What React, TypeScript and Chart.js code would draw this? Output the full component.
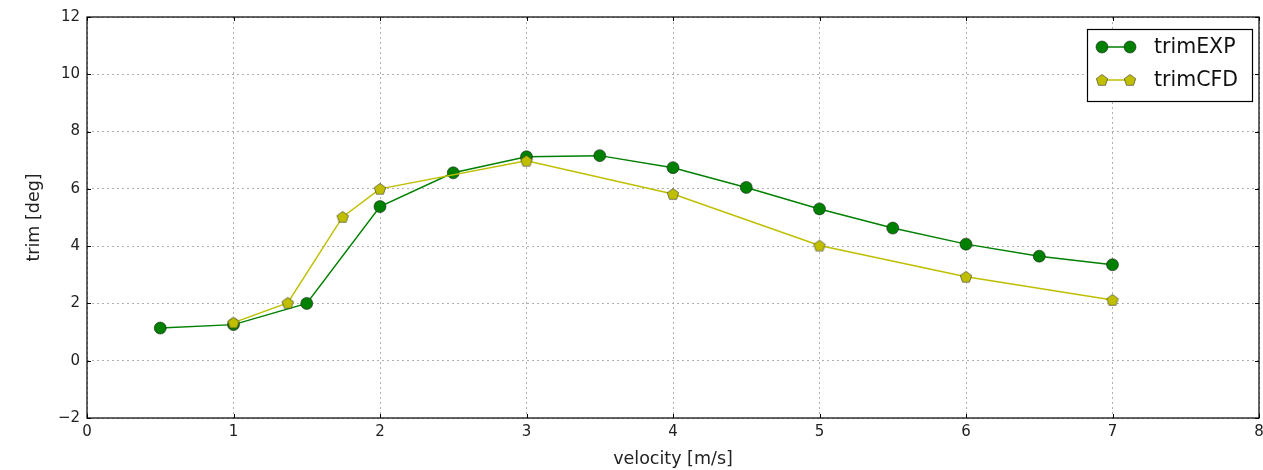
import React, { useEffect, useRef } from "react";
import { Chart, registerables } from "chart.js";

Chart.register(...registerables);

const expVelocity = [0.5, 1, 1.5, 2, 2.5, 3, 3.5, 4, 4.5, 5, 5.5, 6, 6.5, 7];
const expTrim = [1.14, 1.26, 2.0, 5.38, 6.56, 7.12, 7.16, 6.74, 6.05, 5.3, 4.63, 4.07, 3.65, 3.35];
const cfdVelocity = [1, 1.37, 1.745, 2, 3, 4, 5, 6, 7];
const cfdTrim = [1.33, 2.02, 5.02, 6.0, 6.98, 5.82, 4.02, 2.93, 2.12];

const seriesLabels = ["trimEXP", "trimCFD"];
const xTitle = "velocity [m/s]";
const yTitle = "trim [deg]";
const xRange = [0, 8];
const yRange = [-2, 12];

const GREEN = "#008000";
const YELLOW = "#bfbf00";
const FONT = "'DejaVu Sans', sans-serif";

function makePentagon(r: number): HTMLCanvasElement {
  const size = Math.ceil(r * 2 + 2);
  const c = document.createElement("canvas");
  c.width = size;
  c.height = size;
  const ctx = c.getContext("2d")!;
  drawPentagon(ctx, size / 2, size / 2 + 0.5, r);
  return c;
}

function drawPentagon(ctx: CanvasRenderingContext2D, cx: number, cy: number, r: number) {
  ctx.beginPath();
  for (let i = 0; i < 5; i++) {
    const a = -Math.PI / 2 + (i * 2 * Math.PI) / 5;
    const px = cx + r * Math.cos(a);
    const py = cy + r * Math.sin(a);
    if (i === 0) ctx.moveTo(px, py);
    else ctx.lineTo(px, py);
  }
  ctx.closePath();
  ctx.fillStyle = YELLOW;
  ctx.fill();
  ctx.lineWidth = 0.6;
  ctx.strokeStyle = "#333";
  ctx.stroke();
}

export default function App() {
  const ref = useRef<HTMLCanvasElement | null>(null);

  useEffect(() => {
    document.body.style.margin = "0";
    const canvas = ref.current!;
    const pent = makePentagon(6);

    const framePlugin = {
      id: "frame",
      afterDatasetsDraw(chart: any) {
        const { ctx, chartArea } = chart;
        const { left, right, top, bottom } = chartArea;
        ctx.save();
        ctx.strokeStyle = "#000";
        ctx.lineWidth = 1;
        const xs = chart.scales.x;
        const ys = chart.scales.y;
        xs.ticks.forEach((t: any) => {
          const px = Math.round(xs.getPixelForValue(t.value)) + 0.5;
          ctx.beginPath();
          ctx.moveTo(px, bottom);
          ctx.lineTo(px, bottom - 4);
          ctx.moveTo(px, top);
          ctx.lineTo(px, top + 4);
          ctx.stroke();
        });
        ys.ticks.forEach((t: any) => {
          const py = Math.round(ys.getPixelForValue(t.value)) + 0.5;
          ctx.beginPath();
          ctx.moveTo(left, py);
          ctx.lineTo(left + 4, py);
          ctx.moveTo(right, py);
          ctx.lineTo(right - 4, py);
          ctx.stroke();
        });
        ctx.strokeStyle = "#000";
        ctx.lineWidth = 1.2;
        ctx.strokeRect(left, top, right - left, bottom - top);
        ctx.restore();
      },
      afterDraw(chart: any) {
        const { ctx } = chart;
        ctx.save();
        const bx = 1087, by = 29, bw = 165, bh = 72;
        ctx.fillStyle = "#fff";
        ctx.fillRect(bx, by, bw, bh);
        ctx.strokeStyle = "#000";
        ctx.lineWidth = 1.2;
        ctx.strokeRect(bx + 0.5, by + 0.5, bw, bh);
        const rows = [47, 80];
        chart.data.datasets.forEach((ds: any, i: number) => {
          const y = rows[i];
          ctx.strokeStyle = ds.borderColor;
          ctx.lineWidth = 1.5;
          ctx.beginPath();
          ctx.moveTo(1102, y);
          ctx.lineTo(1130, y);
          ctx.stroke();
          [1102, 1130].forEach((mx) => {
            if (i === 0) {
              ctx.beginPath();
              ctx.arc(mx, y, 6, 0, Math.PI * 2);
              ctx.fillStyle = GREEN;
              ctx.fill();
              ctx.lineWidth = 0.6;
              ctx.strokeStyle = "#222";
              ctx.stroke();
            } else {
              drawPentagon(ctx, mx, y + 0.5, 6);
            }
          });
          ctx.fillStyle = "#111";
          ctx.font = `20.5px ${FONT}`;
          ctx.textBaseline = "middle";
          ctx.textAlign = "left";
          ctx.fillText(ds.label, 1154, y + 1);
        });
        ctx.restore();
      },
    };

    const chart = new Chart(canvas, {
      type: "line",
      data: {
        datasets: [
          {
            label: seriesLabels[0],
            data: expVelocity.map((x, i) => ({ x, y: expTrim[i] })),
            borderColor: GREEN,
            backgroundColor: GREEN,
            borderWidth: 1.5,
            pointStyle: "circle",
            pointRadius: 6,
            pointBorderColor: "#222",
            pointBorderWidth: 0.6,
            pointBackgroundColor: GREEN,
            order: 1,
          },
          {
            label: seriesLabels[1],
            data: cfdVelocity.map((x, i) => ({ x, y: cfdTrim[i] })),
            borderColor: YELLOW,
            backgroundColor: YELLOW,
            borderWidth: 1.5,
            pointStyle: pent as any,
            pointRadius: 6,
            order: 0,
          },
        ],
      },
      options: {
        animation: false,
        responsive: false,
        devicePixelRatio: 1,
        layout: { autoPadding: false, padding: { top: 17, right: 4, left: 0, bottom: 0 } },
        plugins: {
          legend: { display: false },
          tooltip: { enabled: false },
        },
        scales: {
          x: {
            type: "linear",
            min: xRange[0],
            max: xRange[1],
            ticks: {
              stepSize: 1,
              padding: 5,
              color: "#222",
              font: { family: FONT, size: 15 },
            },
            grid: {
              color: "#b0b0b0",
              lineWidth: 1,
              drawTicks: false,
            },
            border: { display: false, dash: [2, 3] },
            title: {
              display: true,
              text: xTitle,
              color: "#222",
              font: { family: FONT, size: 17.5 },
              padding: { top: 0, bottom: 0 },
            },
            afterFit: (s: any) => {
              s.height = 52;
              s.paddingRight = 0;
              s.paddingLeft = 0;
            },
          },
          y: {
            type: "linear",
            min: yRange[0],
            max: yRange[1],
            ticks: {
              stepSize: 2,
              padding: 7,
              color: "#222",
              font: { family: FONT, size: 15 },
              callback: (v: any) => String(v).replace("-", "\u2212"),
            },
            grid: {
              color: "#b0b0b0",
              lineWidth: 1,
              drawTicks: false,
            },
            border: { display: false, dash: [2, 3] },
            title: {
              display: true,
              text: yTitle,
              color: "#222",
              font: { family: FONT, size: 17.5 },
              padding: { top: 23.5, bottom: 0 },
            },
            afterFit: (s: any) => {
              s.width = 87;
              s.paddingTop = 0;
              s.paddingBottom = 0;
            },
          },
        },
      },
      plugins: [framePlugin],
    });

    return () => chart.destroy();
  }, []);

  return <canvas ref={ref} width={1263} height={470} style={{ display: "block", width: 1263, height: 470 }} />;
}
